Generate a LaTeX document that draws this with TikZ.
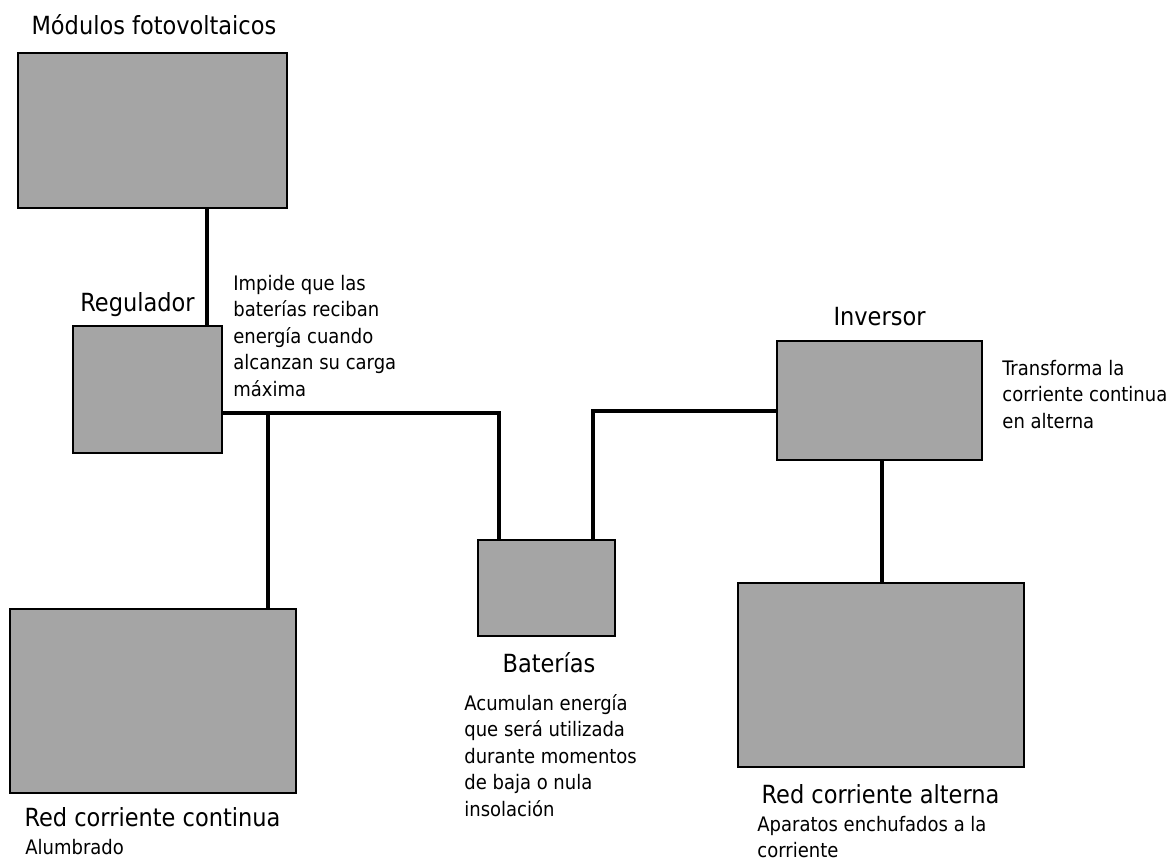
\documentclass[tikz,border=0pt]{standalone}
\usepackage{fontspec}
\setmainfont{DejaVu Sans Condensed}
\usepackage{tikz}
\definecolor{boxgray}{RGB}{165,165,165}

\begin{document}
\begin{tikzpicture}[x=0.5pt,y=-0.5pt,
    box/.style 2 args={draw=black,fill=boxgray,line width=1pt,inner sep=0pt,
        minimum width=#1*0.5pt,minimum height=#2*0.5pt},
    wire/.style={line width=1.9pt},
    title/.style={inner sep=0pt,anchor=base,font=\fontsize{12.5pt}{15pt}\selectfont},
    note/.style={inner sep=0pt,anchor=north west,align=left,
        font=\fontsize{10pt}{13.25pt}\selectfont}]
        \useasboundingbox (0,0) rectangle (1170,861);
        % cajas
        \node[box={269}{155}] (mod) at (152.5,130.5) {};
        \node[box={149}{127}] (reg) at (147.5,389.5) {};
        \node[box={286}{184}] (redcc) at (153,701) {};
        \node[box={137}{96}] (bat) at (546.5,588) {};
        \node[box={205}{119}] (inv) at (879.5,400.5) {};
        \node[box={286}{184}] (redca) at (881,675) {};
        % titulos
        \node[title] (tmod) at (154,35) {Módulos fotovoltaicos};
        \node[title] (treg) at (137.5,311) {Regulador};
        \node[title] (tinv) at (879.5,325) {Inversor};
        \node[title] (tbat) at (549,672) {Baterías};
        \node[title] (tredcc) at (152.5,826) {Red corriente continua};
        \node[title] (tredca) at (880.5,803) {Red corriente alterna};
        % notas
        \node[note] (nreg) at (233,271.5) {\strut Impide que las\\baterías reciban\\energía cuando\\alcanzan su carga\\máxima};
        \node[note] (ninv) at (1002,356.5) {\strut Transforma la\\corriente continua\\en alterna};
        \node[note] (nbat) at (464,691.5) {\strut Acumulan energía\\que será utilizada\\durante momentos\\de baja o nula\\insolación};
        \node[note] (nredcc) at (25,835.5) {\strut Alumbrado};
        \node[note] (nredca) at (757,812.5) {\strut Aparatos enchufados a la\\corriente};
        % conexiones
        \coordinate (tap) at (268,413);
        \draw[wire] (207,0 |- mod.south) -- (207,0 |- reg.north);
        \draw[wire] (reg.east |- tap) -- (499,413) -- (499,0 |- bat.north);
        \draw[wire] (tap) -- (tap |- redcc.north);
        \draw[wire] (593,0 |- bat.north) -- (593,411) -- (inv.west |- 0,411);
        \draw[wire] (882,0 |- inv.south) -- (882,0 |- redca.north);
\end{tikzpicture}
\end{document}
